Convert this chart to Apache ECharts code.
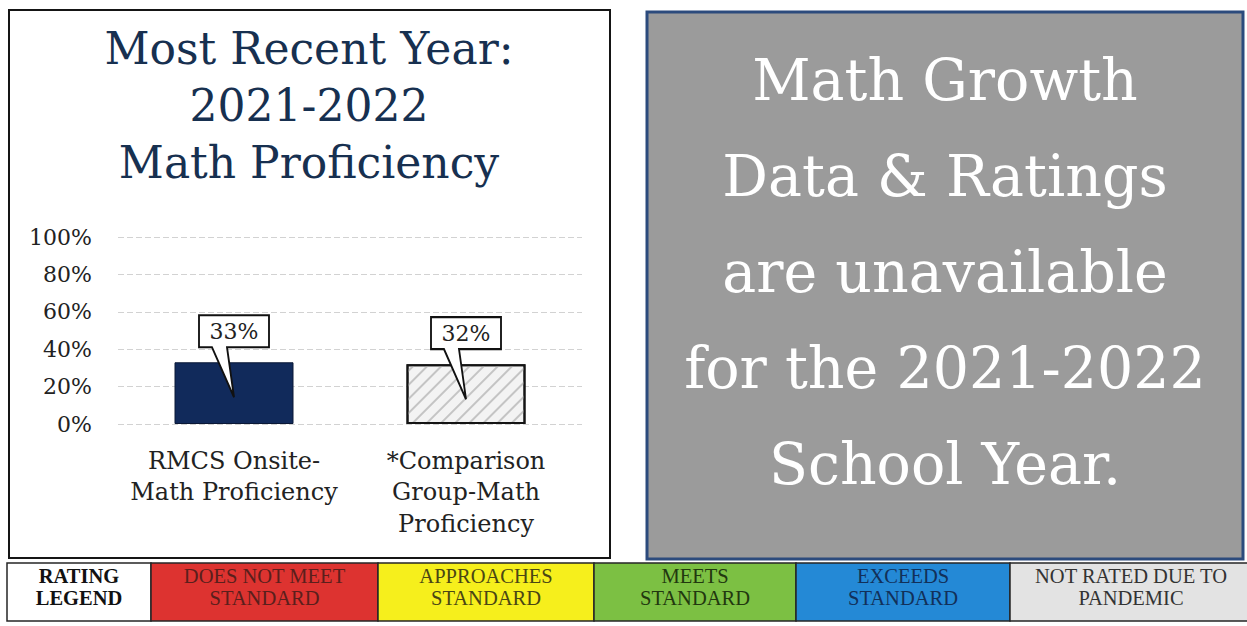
<!DOCTYPE html>
<html>
<head>
<meta charset="utf-8">
<script src="https://cdn.jsdelivr.net/npm/echarts@6/dist/echarts.min.js"></script>
<style>
html,body{margin:0;padding:0;background:#fff;}
#chart{width:1247px;height:626px;}
</style>
</head>
<body>
<div id="chart"></div>
<script>
// ---- data ----
var categories = ['RMCS Onsite-\nMath Proficiency', '*Comparison\nGroup-Math\nProficiency'];
var values = [33, 32];
var yTicks = [0, 20, 40, 60, 80, 100];
var titleLines = ['Most Recent Year:', '2021-2022', 'Math Proficiency'];
var noteLines = ['Math Growth', 'Data & Ratings', 'are unavailable', 'for the 2021-2022', 'School Year.'];
var legendLabels = ['RATING\nLEGEND', 'DOES NOT MEET\nSTANDARD', 'APPROACHES\nSTANDARD', 'MEETS\nSTANDARD', 'EXCEEDS\nSTANDARD', 'NOT RATED DUE TO\nPANDEMIC'];

// ---- styles / layout (not data) ----
var legendColors = ['#ffffff', '#dd3330', '#f6ef1c', '#7cc043', '#2489d6', '#e3e3e3'];
var legendTextColors = ['#111111', '#5a1f1c', '#4a4614', '#22380f', '#123059', '#333333'];
var legendEdges = [7, 151, 378, 594, 796, 1010, 1252];
var serif = '"DejaVu Serif", serif';
var legSerif = '"Liberation Serif", "DejaVu Serif", serif';

var chart = echarts.init(document.getElementById('chart'), null, {renderer: 'svg'});

var graphics = [
  {type: 'rect', z: -10, shape: {x: 9, y: 10, width: 601, height: 548},
   style: {fill: '#ffffff', stroke: '#151515', lineWidth: 2}},
  {type: 'rect', z: -10, shape: {x: 647, y: 12, width: 596, height: 547},
   style: {fill: '#9b9b9b', stroke: '#2c4b7d', lineWidth: 3}}
];
for (var i = 0; i < legendLabels.length; i++) {
  var x0 = legendEdges[i], x1 = legendEdges[i + 1];
  graphics.push({type: 'rect', shape: {x: x0, y: 563, width: x1 - x0, height: 58},
    style: {fill: legendColors[i], stroke: '#262626', lineWidth: 1.5}});
  graphics.push({type: 'text', x: (x0 + x1) / 2, y: 587,
    style: {text: legendLabels[i], align: 'center', verticalAlign: 'middle',
      font: (i === 0 ? 'bold ' : '') + '20.5px ' + legSerif, lineHeight: 22,
      fill: legendTextColors[i]}});
}

var markData = categories.map(function (c, i) {
  return {coord: [c, values[i]], value: values[i]};
});

var option = {
  backgroundColor: '#ffffff',
  animation: false,
  title: [
    {text: titleLines.join('\n'), left: 309, top: 20, textAlign: 'center', padding: 0,
     textStyle: {fontFamily: serif, fontSize: 44, fontWeight: 'normal', color: '#173050', lineHeight: 57}},
    {text: noteLines.join('\n'), left: 945, top: 32, textAlign: 'center', padding: 0,
     textStyle: {fontFamily: serif, fontSize: 57, fontWeight: 'normal', color: '#ffffff', lineHeight: 96}}
  ],
  grid: {left: 118, top: 237, width: 464, height: 187},
  xAxis: {
    type: 'category', data: categories,
    axisLine: {show: false}, axisTick: {show: false},
    axisLabel: {interval: 0, margin: 21, fontFamily: serif, fontSize: 24, lineHeight: 31.5, color: '#222'}
  },
  yAxis: {
    type: 'value', min: 0, max: 100, interval: 20,
    axisLine: {show: false}, axisTick: {show: false},
    axisLabel: {formatter: '{value}%', margin: 26, fontFamily: serif, fontSize: 22, color: '#222',
      customValues: yTicks},
    splitLine: {lineStyle: {color: '#d2d2d2', width: 1, type: [6, 3]}}
  },
  series: [{
    type: 'bar', barWidth: 119,
    data: values.map(function (v, i) {
      return i === 0
        ? {value: v, itemStyle: {color: '#112a5b', borderColor: '#0a1836', borderWidth: 1}}
        : {value: v, itemStyle: {color: '#f3f3f3', borderColor: '#141414', borderWidth: 2,
            decal: {symbol: 'rect', symbolSize: 1, dashArrayX: [1, 0], dashArrayY: [1.5, 8],
              rotation: -Math.PI / 4, color: '#c4c4c4'}}};
    }),
    markPoint: {
      symbol: 'path://M0,0 L70,0 L70,32 L28,32 L35,82 L13,32 L0,32 Z',
      symbolSize: [70, 82], symbolOffset: [0, -6], symbolKeepAspect: false,
      itemStyle: {color: '#ffffff', borderColor: '#111', borderWidth: 2},
      label: {show: true, position: 'inside', offset: [0, -25], formatter: '{c}%',
        fontFamily: serif, fontSize: 22, color: '#222'},
      data: markData
    }
  }],
  graphic: graphics
};
chart.setOption(option);
</script>
</body>
</html>
